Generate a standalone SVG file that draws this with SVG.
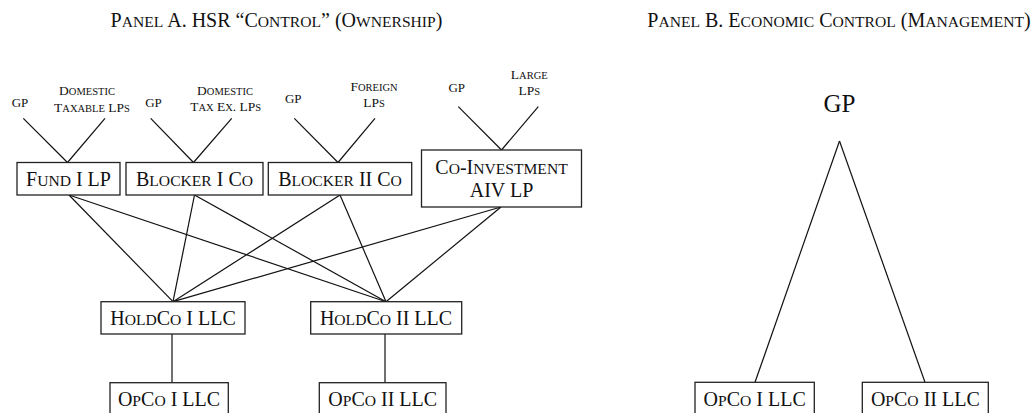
<svg xmlns="http://www.w3.org/2000/svg" width="1034" height="413" viewBox="0 0 1034 413">
<style>
text{font-family:"Liberation Serif","Times New Roman",serif;fill:#111;text-anchor:middle}
.s{font-size:0.78em}
.title{font-size:20px}
.lbl{font-size:13.5px}
.gp{font-size:13px}
.box{font-size:20px}
.big{font-size:25px}
rect{fill:#fff;stroke:#222;stroke-width:1.3}
.conn line{stroke:#111;stroke-width:1.2}
</style>
<text class="title" x="276.5" y="27">P<tspan class="s">ANEL</tspan> A. HSR “C<tspan class="s">ONTROL</tspan>” (O<tspan class="s">WNERSHIP</tspan>)</text>
<text class="title" x="839" y="27">P<tspan class="s">ANEL</tspan> B. E<tspan class="s">CONOMIC</tspan> C<tspan class="s">ONTROL</tspan> (M<tspan class="s">ANAGEMENT</tspan>)</text>
<g class="conn" id="connectors">
<line x1="23.3" y1="118.3" x2="67.5" y2="162.5"/>
<line x1="105" y1="118.3" x2="67.5" y2="162.5"/>
<line x1="150.7" y1="118.3" x2="193.5" y2="162.5"/>
<line x1="231.7" y1="118.3" x2="193.5" y2="162.5"/>
<line x1="294.3" y1="118.3" x2="338" y2="162.5"/>
<line x1="375" y1="118.3" x2="338" y2="162.5"/>
<line x1="458.3" y1="106.7" x2="501.5" y2="150"/>
<line x1="538.3" y1="106.7" x2="501.5" y2="150"/>
<line x1="69" y1="195" x2="173" y2="301.7"/>
<line x1="69" y1="195" x2="386" y2="301.7"/>
<line x1="194.5" y1="195" x2="173" y2="301.7"/>
<line x1="194.5" y1="195" x2="386" y2="301.7"/>
<line x1="340" y1="195" x2="173" y2="301.7"/>
<line x1="340" y1="195" x2="386" y2="301.7"/>
<line x1="501" y1="207" x2="173" y2="301.7"/>
<line x1="501" y1="207" x2="386" y2="301.7"/>
<line x1="172" y1="334" x2="172" y2="382.7"/>
<line x1="385" y1="334" x2="385" y2="382.7"/>
<line x1="839.5" y1="141" x2="755" y2="382.3"/>
<line x1="839.5" y1="141" x2="925" y2="382.3"/>
</g>
<g id="gp-fund"><text class="gp" x="20" y="107">GP</text></g>
<g id="lp-domestic-taxable"><text class="lbl" x="87" y="95">D<tspan class="s">OMESTIC</tspan></text><text class="lbl" x="92" y="111.5">T<tspan class="s">AXABLE</tspan> LP<tspan class="s">S</tspan></text></g>
<g id="gp-blocker1"><text class="gp" x="153.5" y="107">GP</text></g>
<g id="lp-domestic-taxex"><text class="lbl" x="225" y="95">D<tspan class="s">OMESTIC</tspan></text><text class="lbl" x="225.7" y="111">T<tspan class="s">AX</tspan> E<tspan class="s">X</tspan>. LP<tspan class="s">S</tspan></text></g>
<g id="gp-blocker2"><text class="gp" x="293.3" y="103">GP</text></g>
<g id="lp-foreign"><text class="lbl" x="374" y="91">F<tspan class="s">OREIGN</tspan></text><text class="lbl" x="374" y="107">LP<tspan class="s">S</tspan></text></g>
<g id="gp-coinv"><text class="gp" x="456.7" y="92">GP</text></g>
<g id="lp-large"><text class="lbl" x="529.3" y="78.5">L<tspan class="s">ARGE</tspan></text><text class="lbl" x="529.3" y="95">LP<tspan class="s">S</tspan></text></g>
<g id="fund1"><rect x="17" y="162.5" width="103" height="32.5"/><text class="box" x="68.5" y="186">F<tspan class="s">UND</tspan> I LP</text></g>
<g id="blocker1"><rect x="126" y="162.5" width="137" height="32.5"/><text class="box" x="194.5" y="186">B<tspan class="s">LOCKER</tspan> I C<tspan class="s">O</tspan></text></g>
<g id="blocker2"><rect x="268.3" y="162.5" width="143.4" height="32.5"/><text class="box" x="340" y="186">B<tspan class="s">LOCKER</tspan> II C<tspan class="s">O</tspan></text></g>
<g id="coinv"><rect x="421.5" y="150" width="160" height="57"/><text class="box" x="501.5" y="173.5">C<tspan class="s">O</tspan>-I<tspan class="s">NVESTMENT</tspan></text><text class="box" x="501.5" y="197">AIV LP</text></g>
<g id="holdco1"><rect x="101" y="301.7" width="144" height="32.3"/><text class="box" x="173" y="325">H<tspan class="s">OLD</tspan>C<tspan class="s">O</tspan> I LLC</text></g>
<g id="holdco2"><rect x="310.7" y="301.7" width="151" height="32.3"/><text class="box" x="386" y="325">H<tspan class="s">OLD</tspan>C<tspan class="s">O</tspan> II LLC</text></g>
<g id="opco1-a"><rect x="110" y="382.7" width="118.3" height="33"/><text class="box" x="169" y="405.5">O<tspan class="s">P</tspan>C<tspan class="s">O</tspan> I LLC</text></g>
<g id="opco2-a"><rect x="319.3" y="382.7" width="126.7" height="33"/><text class="box" x="382.7" y="405.5">O<tspan class="s">P</tspan>C<tspan class="s">O</tspan> II LLC</text></g>
<g id="gp-b"><text class="big" x="839.5" y="112">GP</text></g>
<g id="opco1-b"><rect x="695" y="382.3" width="119.3" height="33"/><text class="box" x="754.7" y="405.5">O<tspan class="s">P</tspan>C<tspan class="s">O</tspan> I LLC</text></g>
<g id="opco2-b"><rect x="862.3" y="382.3" width="126" height="33"/><text class="box" x="925.3" y="405.5">O<tspan class="s">P</tspan>C<tspan class="s">O</tspan> II LLC</text></g>
</svg>
